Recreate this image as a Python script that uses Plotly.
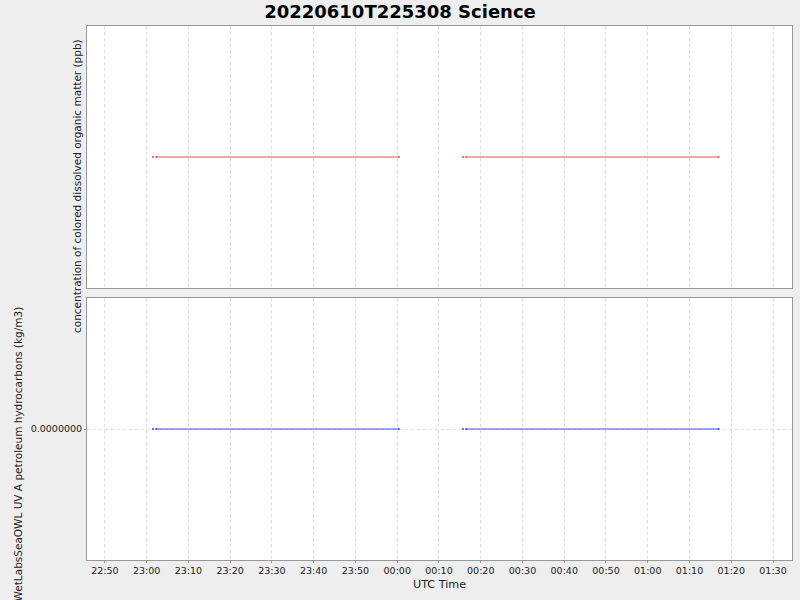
import plotly.graph_objects as go

title = "20220610T225308 Science"
top_label = "concentration of colored dissolved organic matter (ppb)"
bottom_label = "WetLabsSeaOWL UV A petroleum hydrocarbons (kg/m3)"

times = ["2022-06-10 23:01:30", None, "2022-06-10 23:02:15", "2022-06-11 00:00:25", None,
         "2022-06-11 00:15:45", None, "2022-06-11 00:16:30", "2022-06-11 01:17:00"]
cdom = [0.0, None, 0.0, 0.0, None, 0.0, None, 0.0, 0.0]
hydro = [0.0, None, 0.0, 0.0, None, 0.0, None, 0.0, 0.0]

tick_vals = ["2022-06-10 22:50", "2022-06-10 23:00", "2022-06-10 23:10", "2022-06-10 23:20",
             "2022-06-10 23:30", "2022-06-10 23:40", "2022-06-10 23:50", "2022-06-11 00:00",
             "2022-06-11 00:10", "2022-06-11 00:20", "2022-06-11 00:30", "2022-06-11 00:40",
             "2022-06-11 00:50", "2022-06-11 01:00", "2022-06-11 01:10", "2022-06-11 01:20",
             "2022-06-11 01:30"]
tick_text = ["22:50", "23:00", "23:10", "23:20", "23:30", "23:40", "23:50", "00:00", "00:10",
             "00:20", "00:30", "00:40", "00:50", "01:00", "01:10", "01:20", "01:30"]
x_range = ["2022-06-10 22:45:42", "2022-06-11 01:34:33"]

fig = go.Figure()
fig.add_trace(go.Scatter(x=times, y=cdom, mode="lines+markers",
                         line=dict(color="#d9534c", width=1),
                         marker=dict(size=2, color="#d9534c", line=dict(width=0)),
                         xaxis="x", yaxis="y", showlegend=False, connectgaps=False))
fig.add_trace(go.Scatter(x=times, y=hydro, mode="lines+markers",
                         line=dict(color="#4646f0", width=1),
                         marker=dict(size=2, color="#4646f0", line=dict(width=0)),
                         xaxis="x2", yaxis="y2", showlegend=False, connectgaps=False))

font = dict(family="DejaVu Sans", size=11, color="#333333")
grid = dict(showgrid=True, gridcolor="#dcdcdc", griddash="3px,3px", gridwidth=1)
border = dict(showline=True, linecolor="#999999", linewidth=1, mirror=True)

top_dom = [272 / 534, 1.0]
bot_dom = [0.0, 262 / 534]

def py(p):
    return (560 - p) / 534

def px(p):
    return (p - 87) / 705

fig.update_layout(
    width=800, height=600,
    paper_bgcolor="#eeeeee", plot_bgcolor="white",
    margin=dict(l=87, r=8, t=26, b=40),
    font=font,
    title=dict(text="<b>" + title + "</b>", x=0.5, xanchor="center", yref="container",
               y=1 - 12 / 600, yanchor="middle",
               font=dict(family="DejaVu Sans", size=18, color="#000000")),
    xaxis=dict(domain=[0, 1], range=x_range, type="date", tickvals=tick_vals, ticktext=tick_text,
               showticklabels=False, ticks="", anchor="y", **grid, **border),
    yaxis=dict(domain=top_dom, range=[-1, 1], showticklabels=False, showgrid=False, ticks="",
               zeroline=False, anchor="x", **border),
    xaxis2=dict(domain=[0, 1], range=x_range, type="date", tickvals=tick_vals, ticktext=tick_text,
                ticks="outside", ticklen=2, tickcolor="#999999", anchor="y2",
                tickfont=dict(family="DejaVu Sans", size=9.5, color="#222222"),
                title=dict(text="UTC Time", font=dict(family="DejaVu Sans", size=11.2, color="#222222"),
                           standoff=4),
                **grid, **border),
    yaxis2=dict(domain=bot_dom, range=[-1, 1], tickvals=[0], tickformat=".7f", ticks="outside",
                ticklen=2, tickcolor="#999999", zeroline=False, anchor="x2",
                tickfont=dict(family="DejaVu Sans", size=9.5, color="#222222"),
                **grid, **border),
    annotations=[
        dict(text=top_label, textangle=-90, xref="paper", yref="paper",
             x=px(77), y=py(37), xanchor="center", yanchor="top",
             showarrow=False, font=dict(family="DejaVu Sans", size=10.5, color="#222222")),
        dict(text=bottom_label, textangle=-90, xref="paper", yref="paper",
             x=px(17), y=py(305), xanchor="center", yanchor="top",
             showarrow=False, font=dict(family="DejaVu Sans", size=10.5, color="#222222")),
    ],
)

fig.write_html("out.html", post_script="document.body.style.margin='0px';",
               config={"displayModeBar": False})
